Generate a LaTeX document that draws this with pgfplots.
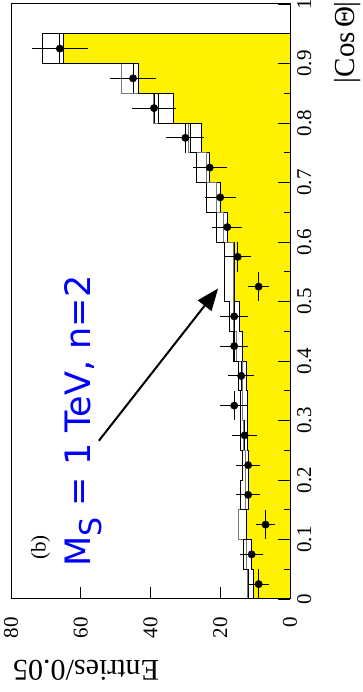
\documentclass[border=0pt]{standalone}
\usepackage{fontspec}
\setmainfont{Liberation Serif}
\newfontfamily\dejavu{DejaVu Sans}
\usepackage{pgfplots}
\pgfplotsset{compat=1.18}
\usetikzlibrary{arrows.meta}
\definecolor{histgray}{RGB}{120,120,120}
\begin{document}
\begin{tikzpicture}[rotate=90, transform shape]
\begin{axis}[
  scale only axis, width=595pt, height=279pt,
  xmin=0, xmax=1, ymin=0, ymax=80,
  xtick={0,0.1,0.2,0.3,0.4,0.5,0.6,0.7,0.8,0.9,1},
  xticklabels={0,0.1,0.2,0.3,0.4,0.5,0.6,0.7,0.8,0.9,1},
  minor xtick={0.05,0.15,0.25,0.35,0.45,0.55,0.65,0.75,0.85,0.95},
  ytick={0,20,40,60,80},
  tick align=inside, tick pos=left,
  major tick length=12pt, minor tick length=6pt,
  tick style={black, line width=0.8pt},
  axis line style={line width=1pt},
  ticklabel style={font=\fontsize{21}{21}\selectfont, inner sep=0.5pt},
  yticklabel style={xshift=-17.5pt},
  xticklabel style={yshift=-6.5pt},
  /pgf/number format/assume math mode=true,
  axis on top,
  clip mode=individual,
]
% SM expectation (yellow)
\addplot[const plot mark left, fill=yellow, draw=black, line width=0.8pt] coordinates {
(0,10.4) (0.05,11.2) (0.1,12.4) (0.15,12.0) (0.2,12.0) (0.25,12.3) (0.3,12.3) (0.35,12.6)
(0.4,13.7) (0.45,14.6) (0.5,16.0) (0.55,16.0) (0.6,18.0) (0.65,20.0) (0.7,23.0) (0.75,25.4)
(0.8,33.5) (0.85,43.4) (0.9,65.0) (0.95,65.0)} \closedcycle;
% gray histogram
\addplot[const plot mark left, draw=histgray, line width=0.8pt] coordinates {
(0,12.3) (0.05,12.4) (0.1,14.9) (0.15,12.8) (0.2,12.8) (0.25,13.5) (0.3,13.7) (0.35,13.7)
(0.4,15.4) (0.45,16.3) (0.5,16.3) (0.55,16.3) (0.6,19.2) (0.65,21.1) (0.7,24.0) (0.75,29.2)
(0.8,39.3) (0.85,48.3) (0.9,66.0) (0.95,66.0) (0.95,0)};
% black histogram
\addplot[const plot mark left, draw=black, line width=0.8pt] coordinates {
(0,12.0) (0.05,13.5) (0.1,12.5) (0.15,14.2) (0.2,13.7) (0.25,14.2) (0.3,14.2) (0.35,14.9)
(0.4,16.3) (0.45,17.3) (0.5,18.9) (0.55,18.9) (0.6,21.1) (0.65,24.0) (0.7,26.9) (0.75,28.5)
(0.8,37.8) (0.85,43.6) (0.9,71.0) (0.95,71.0) (0.95,0)};
% data
\addplot[only marks, mark=*, mark size=3.7pt, black,
  error bars/.cd, x dir=both, x explicit, y dir=both, y explicit,
  error mark=none, error bar style={black, line width=0.9pt}] coordinates {
(0.025,9) +- (0.025,3.0)
(0.075,11) +- (0.025,3.3)
(0.125,7) +- (0.025,2.65)
(0.175,12) +- (0.025,3.46)
(0.225,12) +- (0.025,3.46)
(0.275,13) +- (0.025,3.6)
(0.325,16) +- (0.025,4.0)
(0.375,14) +- (0.025,3.74)
(0.425,16) +- (0.025,4.0)
(0.475,16) +- (0.025,4.0)
(0.525,9) +- (0.025,3.0)
(0.575,15) +- (0.025,3.87)
(0.625,18) +- (0.025,4.24)
(0.675,20) +- (0.025,4.47)
(0.725,23) +- (0.025,4.8)
(0.775,30) +- (0.025,5.48)
(0.825,39) +- (0.025,6.24)
(0.875,45) +- (0.025,6.7)
(0.925,66) +- (0.025,8.12)
};
\node[anchor=base west, font=\fontsize{21}{21}\selectfont] at (axis cs:0.06,70.1) {(b)};
\node[anchor=base west, text=blue, font=\dejavu\fontsize{35}{35}\selectfont, inner sep=0pt] at (axis cs:0.054,57.3) {M\raisebox{-11pt}{\fontsize{30}{30}\selectfont S} = 1 TeV, n=2};
\draw[-{Triangle[length=22pt,width=17pt]}, line width=2pt] (axis cs:0.266,54.8) -- (axis cs:0.522,20.6);
\node[anchor=base east, font=\fontsize{29}{29}\selectfont, inner sep=0pt] at ([xshift=3pt,yshift=-64pt]rel axis cs:1,0) {|Cos$\,$Θ|};
\node[anchor=base east, rotate=90, font=\fontsize{30}{30}\selectfont, inner sep=0pt] at ([xshift=-61pt,yshift=-2pt]rel axis cs:0,1) {Entries/0.05};
\end{axis}
\pgfresetboundingbox
\path (-93pt,-73pt) rectangle (599pt,290pt);
\end{tikzpicture}
\end{document}
